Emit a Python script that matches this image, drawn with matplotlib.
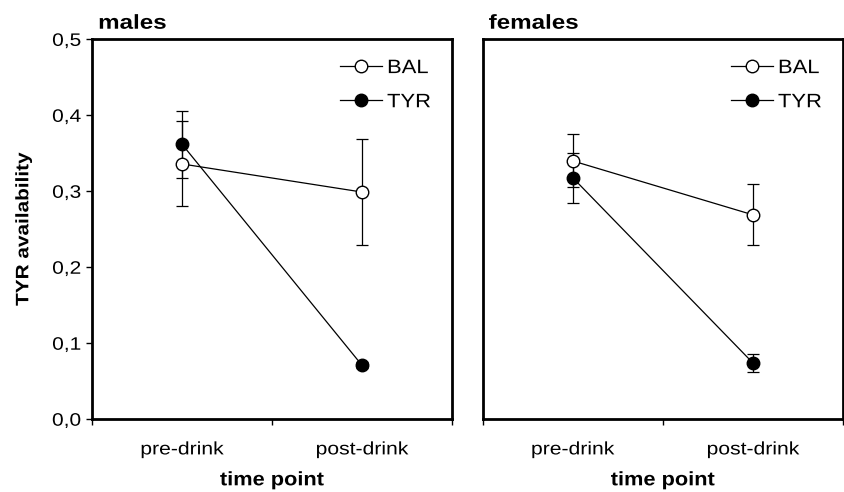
import matplotlib
matplotlib.use("Agg")
import matplotlib.pyplot as plt
from matplotlib.ticker import FuncFormatter
from matplotlib.patheffects import AbstractPathEffect
from matplotlib.transforms import Affine2D

plt.rcParams['font.family'] = ['Liberation Sans', 'DejaVu Sans']

# data
timepoints = ["pre-drink", "post-drink"]
panels = ["males", "females"]

males_bal = [0.336, 0.299]
males_bal_err = [0.056, 0.070]
males_tyr = [0.362, 0.071]
males_tyr_err = [0.044, 0.004]

females_bal = [0.340, 0.269]
females_bal_err = [0.035, 0.040]
females_tyr = [0.318, 0.074]
females_tyr_err = [0.033, 0.012]

yticks = [0.0, 0.1, 0.2, 0.3, 0.4, 0.5]


class Widen(AbstractPathEffect):
    """Stretch text along its baseline (the reference font runs wide)."""

    def __init__(self, sx=1.17, anchor='center'):
        super().__init__()
        self.sx = sx
        self.anchor = anchor

    def draw_path(self, renderer, gc, tpath, affine, rgbFace=None):
        xs = tpath.vertices[:, 0]
        if len(xs) == 0:
            return
        x0, x1 = xs.min(), xs.max()
        cx = {'left': x0, 'right': x1}.get(self.anchor, (x0 + x1) / 2)
        pre = Affine2D().translate(-cx, 0).scale(self.sx, 1).translate(cx, 0)
        renderer.draw_path(gc, tpath, pre + affine, rgbFace)


fig = plt.figure(figsize=(8.44, 4.92), dpi=100)
ax1 = fig.add_axes([0.109, 0.148, 0.4265, 0.772])
ax2 = fig.add_axes([0.5717, 0.148, 0.4272, 0.772])

data = [
    (ax1, males_bal, males_bal_err, males_tyr, males_tyr_err),
    (ax2, females_bal, females_bal_err, females_tyr, females_tyr_err),
]

xpos = [0.5, 1.5]
for i, (ax, bal, bal_e, tyr, tyr_e) in enumerate(data):
    ax.errorbar(xpos, tyr, yerr=tyr_e, color='black', capsize=4,
                capthick=0.9, elinewidth=0.9, zorder=2, fmt='none')
    ax.errorbar(xpos, bal, yerr=bal_e, color='black', capsize=4,
                capthick=0.9, elinewidth=0.9, zorder=2, fmt='none')
    ax.plot(xpos, bal, '-o', color='black', lw=0.9, ms=9, mfc='white',
            mec='black', mew=1, label='BAL', zorder=3)
    ax.plot(xpos, tyr, '-o', color='black', lw=0.9, ms=9, mfc='black',
            mec='black', mew=1, label='TYR', zorder=4)

    ax.set_xlim(0, 2)
    ax.set_ylim(0, 0.5)
    ax.set_xticks([0, 1, 2])
    ax.set_xticklabels([])
    ax.set_xticks(xpos, minor=True)
    ax.set_xticklabels(timepoints, minor=True, fontsize=13)
    for t in ax.get_xticklabels(minor=True):
        t.set_path_effects([Widen()])
    ax.tick_params(axis='x', which='minor', length=0, pad=16)
    ax.tick_params(axis='x', which='major', length=4, width=1, direction='out')
    for s in ax.spines.values():
        s.set_linewidth(2)
    ax.set_xlabel("time point", fontsize=14, fontweight='bold', labelpad=10,
                  path_effects=[Widen(1.12)])
    ax.text(0.017, 1.028, panels[i], transform=ax.transAxes, ha='left',
            va='baseline', fontsize=14.5, fontweight='bold',
            path_effects=[Widen(1.2, 'left')])

    leg = ax.legend(loc='upper left', frameon=False, fontsize=14,
                    handlelength=2.15, handletextpad=0.25, labelspacing=0.85,
                    borderpad=0, borderaxespad=0,
                    bbox_to_anchor=(0.69, 0.947))
    for t in leg.get_texts():
        t.set_path_effects([Widen(1.13, 'left')])

ax1.set_yticks(yticks)
ax1.yaxis.set_major_formatter(FuncFormatter(lambda v, p: f"{v:.1f}".replace('.', ',')))
ax1.tick_params(axis='y', labelsize=13, length=4.3, width=1, direction='out', pad=3.6)
for t in ax1.get_yticklabels():
    t.set_path_effects([Widen(1.16, 'right')])
ax1.set_ylabel("TYR availability", fontsize=13, fontweight='bold', labelpad=17,
               path_effects=[Widen(1.15)])

ax2.set_yticks([])

fig.savefig("out.png", dpi=100)
